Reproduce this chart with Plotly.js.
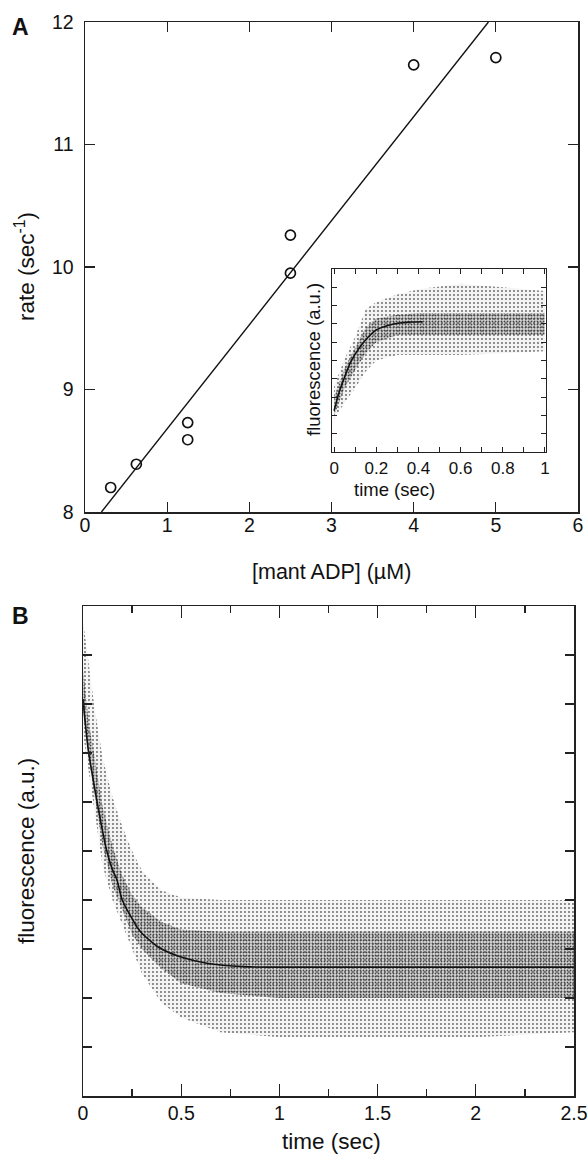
<!DOCTYPE html>
<html>
<head>
<meta charset="utf-8">
<script src="https://cdn.plot.ly/plotly-3.0.1.min.js"></script>
<style>
  html, body { margin: 0; padding: 0; background: #fff; }
  #chart { width: 587px; height: 1154px; }
</style>
</head>
<body>
<div id="chart"></div>
<script>
// ---------- Panel A: rate vs [mant ADP] ----------
const concADP = [0.3125, 0.625, 1.25, 1.25, 2.5, 2.5, 4.0, 5.0];
const rateObs = [8.20, 8.39, 8.73, 8.59, 10.26, 9.95, 11.65, 11.71];
const rateFitX = [0.2, 4.91];
const rateFitY = [8.0, 12.0];

// ---------- Inset: fluorescence rise (arbitrary units 0-10) ----------
const insetFitT = [0.0, 0.025, 0.05, 0.076, 0.1, 0.14, 0.2, 0.25, 0.31, 0.36, 0.42];
const insetFitF = [2.25, 3.3, 4.1, 4.86, 5.35, 6.0, 6.67, 6.9, 7.05, 7.1, 7.12];
const insetCloudT = [0.0, 0.05, 0.1, 0.15, 0.2, 0.3, 0.4, 0.6, 0.8, 1.0];
const insetOuterHi = [3.6, 5.1, 6.3, 7.8, 8.2, 8.6, 8.9, 9.2, 9.0, 8.8];
const insetOuterLo = [1.8, 2.7, 3.5, 4.4, 5.0, 5.3, 5.3, 5.3, 5.4, 5.5];
const insetCoreHi = [3.0, 4.6, 5.7, 6.8, 7.3, 7.5, 7.6, 7.6, 7.6, 7.6];
const insetCoreLo = [2.0, 3.5, 4.5, 5.4, 6.0, 6.4, 6.4, 6.4, 6.4, 6.4];

// ---------- Panel B: fluorescence decay (arbitrary units 0-10) ----------
const decayFitT = [0.0, 0.027, 0.05, 0.07, 0.1, 0.12, 0.15, 0.173, 0.2, 0.25, 0.275, 0.3, 0.357, 0.4, 0.495, 0.63, 0.82, 1.0, 1.5, 2.0, 2.5];
const decayFitF = [8.1, 7.06, 6.5, 6.04, 5.4, 5.02, 4.62, 4.41, 4.0, 3.62, 3.45, 3.32, 3.12, 3.0, 2.84, 2.71, 2.64, 2.63, 2.63, 2.63, 2.63];
const decayCloudT = [0.0, 0.03, 0.06, 0.1, 0.15, 0.2, 0.25, 0.3, 0.4, 0.5, 0.7, 1.0, 1.5, 2.0, 2.5];
const decayOuterHi = [9.7, 8.8, 7.9, 6.9, 6.1, 5.5, 5.0, 4.6, 4.2, 4.05, 4.0, 4.0, 4.0, 4.0, 4.0];
const decayOuterLo = [7.4, 6.6, 5.8, 4.7, 4.0, 3.5, 3.0, 2.5, 1.9, 1.6, 1.3, 1.2, 1.2, 1.2, 1.3];
const decayCoreHi = [8.7, 7.6, 6.9, 5.9, 5.1, 4.5, 4.1, 3.85, 3.55, 3.4, 3.35, 3.35, 3.35, 3.35, 3.35];
const decayCoreLo = [7.9, 6.9, 6.1, 5.1, 4.3, 3.8, 3.3, 3.0, 2.6, 2.3, 2.1, 2.0, 2.0, 2.0, 2.0];

const FONT = 'Liberation Sans, Arial, Helvetica, sans-serif';
const AX = '#222';

function band(x, lo, hi, xa, ya, outer) {
  const mk = (fillOpts) => [
    {x: x, y: lo, xaxis: xa, yaxis: ya, mode: 'lines',
      line: {width: 0, color: 'rgba(0,0,0,0)'}, hoverinfo: 'skip', showlegend: false},
    Object.assign({x: x, y: hi, xaxis: xa, yaxis: ya, mode: 'lines', fill: 'tonexty',
      line: {width: 0, color: 'rgba(0,0,0,0)'}, hoverinfo: 'skip', showlegend: false}, fillOpts)
  ];
  const tone = mk({fillcolor: outer ? 'rgba(0,0,0,0.045)' : 'rgba(0,0,0,0.12)'});
  const speck = mk({
    fillcolor: 'rgba(0,0,0,0)',
    fillpattern: outer
      ? {shape: '.', size: 4, solidity: 0.18, fgcolor: '#666', bgcolor: 'rgba(0,0,0,0)'}
      : {shape: '.', size: 3, solidity: 0.3, fgcolor: '#444', bgcolor: 'rgba(0,0,0,0)'}
  });
  return tone.concat(speck);
}

const traces = [];
// Panel A
traces.push({
  x: rateFitX, y: rateFitY, xaxis: 'x', yaxis: 'y', mode: 'lines',
  line: {color: '#111', width: 1.4}, showlegend: false
});
traces.push({
  x: concADP, y: rateObs, xaxis: 'x', yaxis: 'y', mode: 'markers',
  marker: {symbol: 'circle-open', size: 10, color: '#111', line: {width: 1.7, color: '#111'}},
  showlegend: false
});
// Inset
traces.push(...band(insetCloudT, insetOuterLo, insetOuterHi, 'x2', 'y2', true));
traces.push(...band(insetCloudT, insetCoreLo, insetCoreHi, 'x2', 'y2', false));
traces.push({
  x: insetFitT, y: insetFitF, xaxis: 'x2', yaxis: 'y2', mode: 'lines',
  line: {color: '#111', width: 1.6, shape: 'spline'}, showlegend: false
});
// Panel B
traces.push(...band(decayCloudT, decayOuterLo, decayOuterHi, 'x3', 'y3', true));
traces.push(...band(decayCloudT, decayCoreLo, decayCoreHi, 'x3', 'y3', false));
traces.push({
  x: decayFitT, y: decayFitF, xaxis: 'x3', yaxis: 'y3', mode: 'lines',
  line: {color: '#111', width: 1.6, shape: 'spline'}, showlegend: false
});

function axisBase(extra) {
  return Object.assign({
    showgrid: false, zeroline: false, showline: true, linecolor: AX, linewidth: 1.5,
    mirror: 'ticks', ticks: 'inside', tickcolor: AX, tickwidth: 1.3,
    ticklabeloverflow: 'allow',
    tickfont: {family: FONT, size: 19.5, color: '#111'}
  }, extra);
}

const W = 587, H = 1154;
const px = v => v / W;
const py = v => 1 - v / H;

const layout = {
  width: W, height: H,
  margin: {l: 0, r: 0, t: 0, b: 0},
  paper_bgcolor: '#fff', plot_bgcolor: '#fff',
  showlegend: false,
  font: {family: FONT, color: '#111'},
  xaxis: axisBase({domain: [px(85), px(578)], range: [0, 6], dtick: 1, ticklen: 10, anchor: 'y', ticklabelstandoff: -5}),
  yaxis: axisBase({domain: [py(512), py(22)], range: [8, 12], dtick: 1, ticklen: 10, anchor: 'x', ticklabelstandoff: 6}),
  xaxis2: axisBase({domain: [px(332), px(546)], range: [-0.01, 1.005], dtick: 0.2, tick0: 0,
    ticklen: 5, tickwidth: 1, linewidth: 1.2, anchor: 'y2', tickfont: {family: FONT, size: 17, color: '#111'}, ticklabelstandoff: 0,
    minor: {dtick: 0.1, tick0: 0, ticklen: 5, ticks: 'inside', tickcolor: AX, tickwidth: 1}}),
  yaxis2: axisBase({domain: [py(452), py(269)], range: [0, 10], dtick: 1, ticklen: 5, tickwidth: 1, linewidth: 1.2,
    showticklabels: false, anchor: 'x2'}),
  xaxis3: axisBase({domain: [px(83), px(574)], range: [0, 2.5001], dtick: 0.5, ticklen: 12, anchor: 'y3', ticklabelstandoff: -1,
    minor: {dtick: 0.25, ticklen: 7, ticks: 'inside', tickcolor: AX, tickwidth: 1.3}}),
  yaxis3: axisBase({domain: [py(1096), py(606)], range: [0, 10], dtick: 1, ticklen: 9, showticklabels: false, anchor: 'x3'}),
  annotations: [
    {text: '<b>A</b>', x: px(20), y: py(27), xref: 'paper', yref: 'paper', showarrow: false,
      font: {family: FONT, size: 23, color: '#111'}, xanchor: 'center', yanchor: 'middle'},
    {text: '<b>B</b>', x: px(20), y: py(616), xref: 'paper', yref: 'paper', showarrow: false,
      font: {family: FONT, size: 23, color: '#111'}, xanchor: 'center', yanchor: 'middle'},
    {text: 'rate (sec<sup>-1</sup>)', x: px(25), y: py(267), xref: 'paper', yref: 'paper', showarrow: false,
      textangle: -90, font: {family: FONT, size: 22.5, color: '#111'}, xanchor: 'center', yanchor: 'middle'},
    {text: '[mant ADP] (\u00B5M)', x: px(331), y: py(572), xref: 'paper', yref: 'paper', showarrow: false,
      font: {family: FONT, size: 21.5, color: '#111'}, xanchor: 'center', yanchor: 'middle'},
    {text: 'time (sec)', x: px(394), y: py(489), xref: 'paper', yref: 'paper', showarrow: false,
      font: {family: FONT, size: 18.5, color: '#111'}, xanchor: 'center', yanchor: 'middle'},
    {text: 'fluorescence (a.u.)', x: px(313), y: py(360), xref: 'paper', yref: 'paper', showarrow: false,
      textangle: -90, font: {family: FONT, size: 18.5, color: '#111'}, xanchor: 'center', yanchor: 'middle'},
    {text: 'fluorescence (a.u.)', x: px(26), y: py(851), xref: 'paper', yref: 'paper', showarrow: false,
      textangle: -90, font: {family: FONT, size: 22.5, color: '#111'}, xanchor: 'center', yanchor: 'middle'},
    {text: 'time (sec)', x: px(331), y: py(1141), xref: 'paper', yref: 'paper', showarrow: false,
      font: {family: FONT, size: 22.5, color: '#111'}, xanchor: 'center', yanchor: 'middle'}
  ]
};

Plotly.newPlot('chart', traces, layout, {staticPlot: true, displayModeBar: false});
</script>
</body>
</html>
